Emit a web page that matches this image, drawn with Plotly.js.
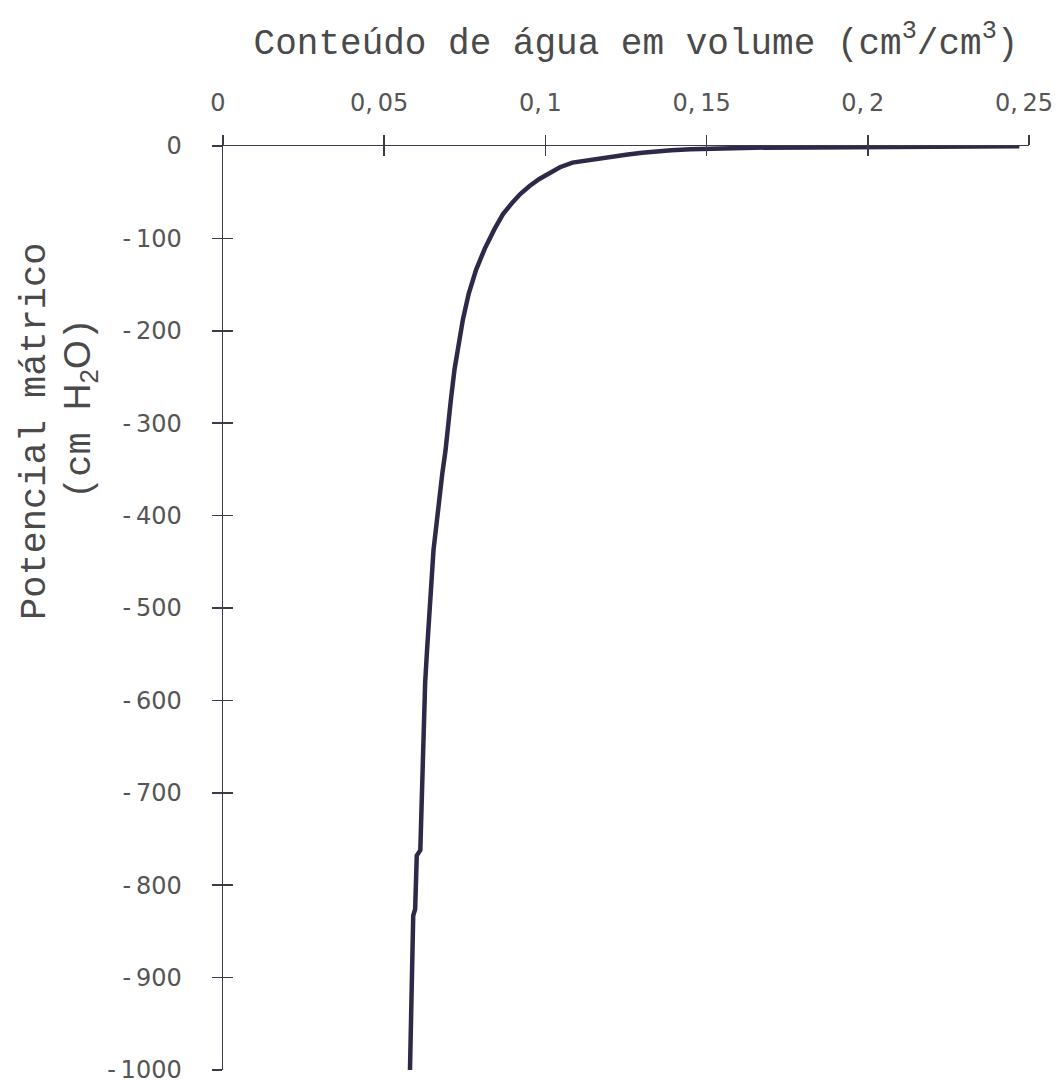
<!DOCTYPE html>
<html>
<head>
<meta charset="utf-8">
<script src="https://cdn.plot.ly/plotly-3.0.1.min.js"></script>
<style>
  html, body { margin: 0; padding: 0; background: #ffffff; }
  #chart { width: 1061px; height: 1083px; }
</style>
</head>
<body>
<div id="chart"></div>
<script>
// Water retention curve: volumetric water content vs matric potential
const waterContent = [0.247, 0.215, 0.184, 0.182, 0.165, 0.150, 0.145, 0.139, 0.134, 0.130,
  0.125, 0.1207, 0.1175, 0.1146, 0.111, 0.1084, 0.1045, 0.1012, 0.098, 0.095,
  0.0922, 0.0898, 0.0868, 0.0842, 0.0812, 0.0785, 0.0762, 0.0744, 0.0730, 0.0718,
  0.0707, 0.0700, 0.0690, 0.0680, 0.0672, 0.0662, 0.0653, 0.0646, 0.0640, 0.0633,
  0.0627, 0.0624, 0.0620, 0.0616, 0.0612, 0.0601, 0.0596, 0.0590, 0.0587, 0.0584,
  0.0580];
const matricPotential = [-0.3, -0.4, -0.5, -1.5, -1.8, -2.5, -3.5, -4.6, -5.5, -7.3,
  -9.5, -11.7, -12.5, -14, -16, -18, -23, -29, -36, -43.5,
  -52, -61, -74, -90, -111, -134, -160, -188, -215, -242,
  -274, -300, -330, -355, -383, -410, -437, -470, -509, -545,
  -581, -620, -653, -707, -762, -768, -826, -833, -880, -943,
  -1000];

const xTickVals = [0, 0.05, 0.1, 0.15, 0.2, 0.25];
const xTickText = ["0", "0,\u200905", "0,\u20091", "0,\u200915", "0,\u20092", "0,\u200925"];
const yTickVals = [0, -100, -200, -300, -400, -500, -600, -700, -800, -900, -1000];
const yTickText = ["0", "-\u2009100", "-\u2009200", "-\u2009300", "-\u2009400", "-\u2009500",
  "-\u2009600", "-\u2009700", "-\u2009800", "-\u2009900", "-\u20091000"];

const xTitle = "Conteúdo de água em volume (cm<sup>3</sup>/cm<sup>3</sup>)";
const yTitleLine1 = "Potencial mátrico";
const yTitleLine2 = "(cm <span style='font-family:Liberation Sans'>H<sub>2</sub>O</span>)";

const axisColor = "#3b3a48";
const labelFont = { family: "DejaVu Sans, Verdana, sans-serif", size: 24, color: "#555555" };
const titleFont = { family: "Liberation Mono, Courier New, monospace", size: 36, color: "#4a4a4a" };
const yTitleFont = { family: "Liberation Mono, Courier New, monospace", size: 37, color: "#4a4a4a" };

const traces = [
  {
    x: waterContent,
    y: matricPotential,
    type: "scatter",
    mode: "lines",
    line: { color: "#2c2a48", width: 4.5 },
    showlegend: false,
    hoverinfo: "x+y"
  },
  // carries the second pair of axes that draws the inner half of each tick
  {
    x: [null], y: [null],
    xaxis: "x2", yaxis: "y2",
    type: "scatter", mode: "lines",
    showlegend: false, hoverinfo: "skip"
  }
];

const baseX = {
  range: [0, 0.25],
  side: "top",
  tickvals: xTickVals,
  ticklen: 10,
  tickwidth: 1.5,
  tickcolor: axisColor,
  showgrid: false,
  zeroline: false,
  fixedrange: true
};
const baseY = {
  range: [-1000, 0],
  tickvals: yTickVals,
  ticklen: 10,
  tickwidth: 1.5,
  tickcolor: axisColor,
  showgrid: false,
  zeroline: false,
  fixedrange: true
};

const layout = {
  width: 1061,
  height: 1083,
  paper_bgcolor: "#ffffff",
  plot_bgcolor: "#ffffff",
  margin: { l: 223, r: 32, t: 146, b: 13, pad: 0 },
  showlegend: false,
  title: {
    text: xTitle,
    font: titleFont,
    x: 636 / 1061,
    xanchor: "center",
    y: 1 - 41 / 1083,
    yanchor: "middle"
  },
  xaxis: Object.assign({}, baseX, {
    anchor: "y",
    ticks: "outside",
    ticktext: xTickText,
    showline: true,
    linecolor: axisColor,
    linewidth: 1.5,
    tickfont: labelFont,
    ticklabelstandoff: 14,
    ticklabelshift: -5,
    ticklabeloverflow: "allow"
  }),
  yaxis: Object.assign({}, baseY, {
    anchor: "x",
    ticks: "outside",
    ticktext: yTickText,
    showline: true,
    linecolor: axisColor,
    linewidth: 1.5,
    tickfont: labelFont,
    ticklabelstandoff: 25,
    ticklabeloverflow: "allow"
  }),
  xaxis2: Object.assign({}, baseX, {
    overlaying: "x",
    anchor: "y2",
    ticks: "inside",
    showticklabels: false,
    showline: false
  }),
  yaxis2: Object.assign({}, baseY, {
    overlaying: "y",
    anchor: "x2",
    ticks: "inside",
    showticklabels: false,
    showline: false
  }),
  annotations: [
    {
      text: yTitleLine1,
      xref: "paper", yref: "paper",
      x: 0, y: (1070 - 432) / 924,
      xshift: 35 - 223,
      textangle: -90,
      showarrow: false,
      font: yTitleFont,
      xanchor: "center", yanchor: "middle"
    },
    {
      text: yTitleLine2,
      xref: "paper", yref: "paper",
      x: 0, y: (1070 - 409) / 924,
      xshift: 80 - 223,
      textangle: -90,
      showarrow: false,
      font: yTitleFont,
      xanchor: "center", yanchor: "middle"
    }
  ]
};

Plotly.newPlot("chart", traces, layout, { displayModeBar: false, staticPlot: true });
</script>
</body>
</html>
